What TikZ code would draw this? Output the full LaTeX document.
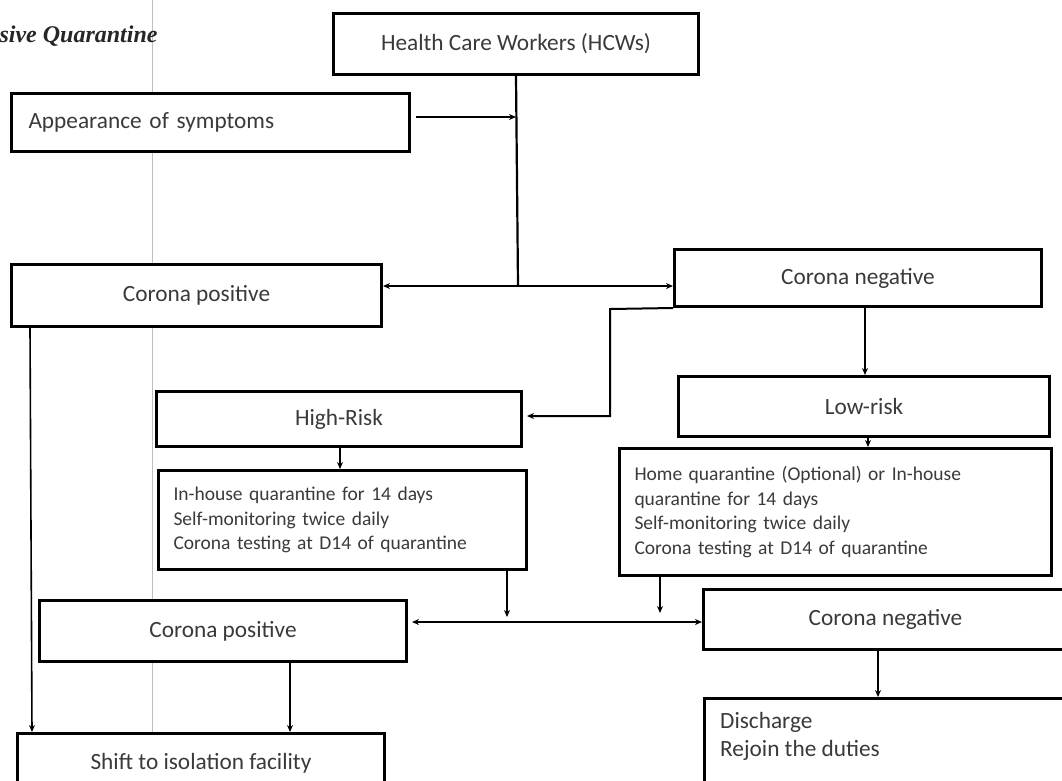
\documentclass[tikz,border=0pt]{standalone}
\usepackage{fontspec}
\setmainfont{Carlito}
\newfontfamily\titlefont{Liberation Serif}
\usetikzlibrary{arrows.meta}
\definecolor{txt}{HTML}{3A3A3A}
\begin{document}
\begin{tikzpicture}[x=1pt,y=-1pt,
  box/.style={draw=black, line width=3pt, fill=white, text=txt, inner sep=0pt,
    font=\fontsize{23.3}{28}\selectfont, anchor=north west},
  smallbox/.style={box, font=\fontsize{19.5}{24.5}\selectfont, align=left},
  tip/.style={-{Stealth[length=7pt,width=6pt]}},
  thickconn/.style={line width=2.2pt},
  thinconn/.style={line width=1.1pt, tip},
  mainconn/.style={line width=2pt, tip},
  margin/.style={draw=black!25, line width=0.8pt}
]
\useasboundingbox (0,0) rectangle (1062,780);
\clip (0,0) rectangle (1062,780);
\fill[white] (0,0) rectangle (1062,780);
\draw[margin] (152,0) -- (152,780);

\node[anchor=west, font=\titlefont\bfseries\itshape\fontsize{24}{28}\selectfont, text=black!85] (title) at (-4,36) {sive Quarantine};

\node[box, minimum width=365, minimum height=61] (hcw) at (332,12) {Health Care Workers (HCWs)};
\node[box, minimum width=398, minimum height=58, align=left, text width=364] (app) at (10,92) {Appearance of symptoms};
\node[box, minimum width=370, minimum height=62] (cp1) at (10,263) {Corona positive};
\node[box, minimum width=367, minimum height=57] (cn1) at (673,248) {Corona negative};
\node[box, minimum width=365, minimum height=55] (hr) at (155,390) {High-Risk};
\node[box, minimum width=371, minimum height=60] (lr) at (677,375) {Low-risk};
\node[smallbox, minimum width=368, minimum height=99, text width=338] (hrbox) at (157,469) {In-house quarantine for 14 days\\Self-monitoring twice daily\\Corona testing at D14 of quarantine};
\node[smallbox, minimum width=432, minimum height=127, text width=402] (lrbox) at (618,447) {Home quarantine (Optional) or In-house\\quarantine for 14 days\\Self-monitoring twice daily\\Corona testing at D14 of quarantine};
\node[box, minimum width=367, minimum height=61] (cp2) at (38,599) {Corona positive};
\node[box, minimum width=364, minimum height=60] (cn2) at (702,588) {Corona negative};
\node[box, minimum width=367, minimum height=60] (shift) at (16,732) {Shift to isolation facility};
\node[box, minimum width=364, minimum height=110] (dis) at (703,697) {};
\node[anchor=north west, align=left, text=txt, inner sep=0pt, font=\fontsize{23.3}{28}\selectfont] (distext) at (720,712) {Discharge\\Rejoin the duties};

% connectors
\coordinate (j) at (518,286);
\draw[thickconn] (hcw.south -| 516,0) -- (j);
\draw[mainconn] (j) -- (cp1.east |- j);
\draw[mainconn] (j) -- (cn1.west |- j);
\draw[mainconn] ([xshift=5pt]app.east |- 0,117) -- (516,117);
\draw[mainconn] (cn1.south west) -- (610,309) -- (610,416) -- ([xshift=4pt]hr.east |- 0,416);
\draw[thinconn] (865,305) -- (lr.north -| 865,0);
\draw[thinconn] (hr.south -| 340,0) -- (hrbox.north -| 340,0);
\draw[thinconn] (lr.south -| 868,0) -- (lrbox.north -| 868,0);
\coordinate (m1) at (507,617);
\coordinate (m2) at (660,613);
\draw[thinconn] (hrbox.south -| m1) -- (m1);
\draw[thinconn] (lrbox.south -| m2) -- (m2);
\coordinate (h2) at (555,622);
\draw[mainconn] (h2) -- ([xshift=4pt]cp2.east |- h2);
\draw[mainconn] (h2) -- (cn2.west |- h2);
\draw[line width=1.6pt, tip] (cp1.south -| 30,0) -- (shift.north -| 32,0);
\draw[thinconn] (cp2.south -| 290,0) -- (shift.north -| 290,0);
\draw[thinconn] (cn2.south -| 878,0) -- (dis.north -| 878,0);
\end{tikzpicture}
\end{document}
